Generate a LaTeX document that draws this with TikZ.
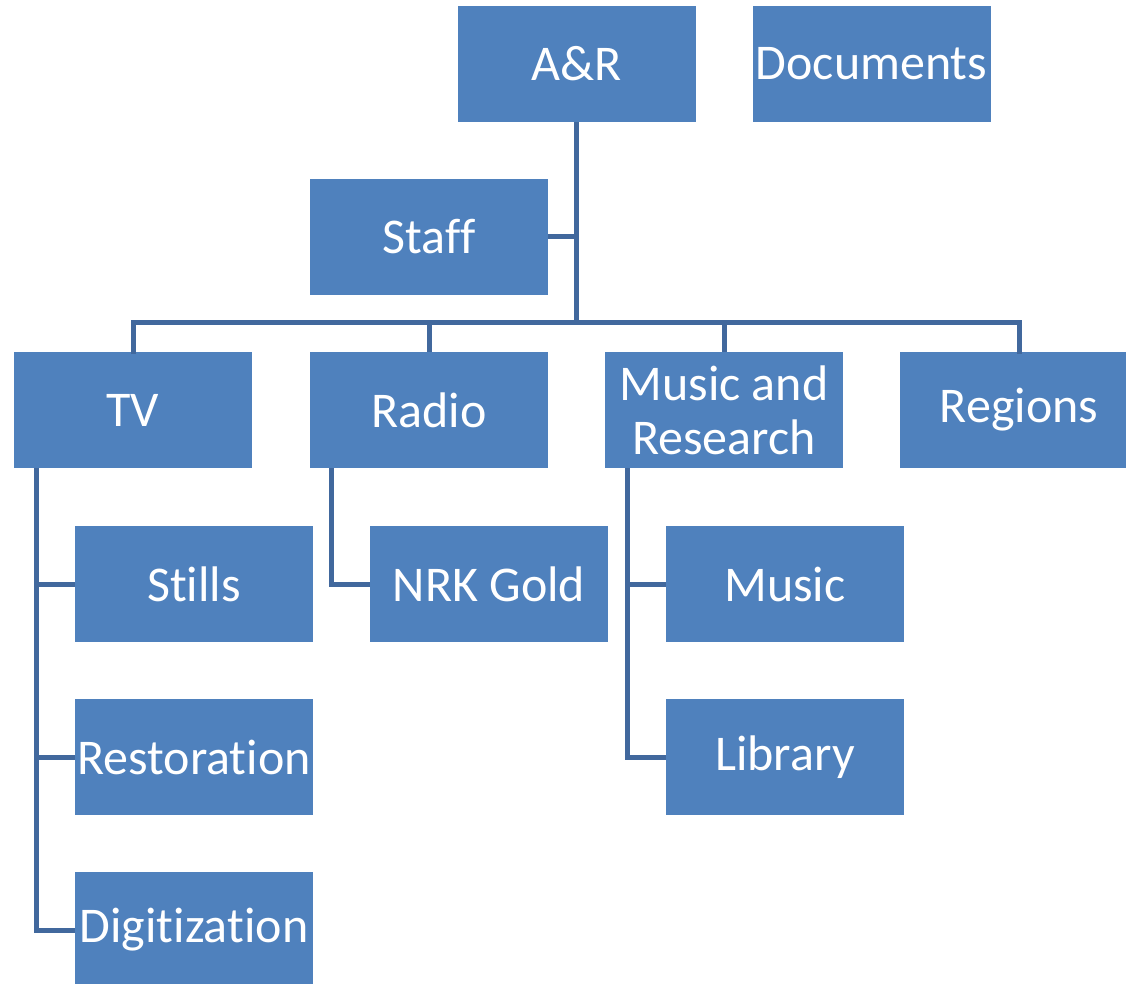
\documentclass[tikz,border=0pt]{standalone}
\usepackage{fontspec}
\setmainfont[Ligatures=NoCommon]{Carlito}
\definecolor{boxfill}{HTML}{4F81BD}
\definecolor{linecol}{HTML}{41689D}
\begin{document}
\begin{tikzpicture}[x=1pt,y=-1pt,
  box/.style={rectangle,fill=boxfill,draw=none,minimum width=238pt,minimum height=116pt,inner sep=0pt,text=white,font=\fontsize{50}{54}\selectfont,align=center},
  conn/.style={draw=linecol,line width=5pt}]
\useasboundingbox (0,0) rectangle (1126,984);
\fill[white] (0,0) rectangle (1126,984);
\node[box] (ar) at (576.5,64) {A\&R};
\node[box] (docs) at (871.5,64) {Documents};
\node[box] (staff) at (429,237) {Staff};
\node[box] (tv) at (133,410) {TV};
\node[box] (radio) at (429,410) {Radio};
\node[box] (mr) at (724,410) {Music and\\Research};
\node[box] (regions) at (1019,410) {Regions};
\node[box] (stills) at (194,584) {Stills};
\node[box] (nrk) at (489,584) {NRK Gold};
\node[box] (music) at (785,584) {Music};
\node[box] (resto) at (194,757) {Restoration};
\node[box] (library) at (785,757) {Library};
\node[box] (digit) at (194,930) {Digitization};
\coordinate (bus) at (576.5,322);
\coordinate (tvl) at (36,468);
\coordinate (radl) at (331,468);
\coordinate (mrl) at (627,468);
\draw[conn] (ar.south) -- (ar.south |- bus);
\draw[conn] (staff.east) -- (staff.east -| ar.south);
\draw[conn,line cap=rect] (tv.north) -- (tv.north |- bus) -- (regions.north |- bus) -- (regions.north);
\draw[conn] (radio.north) -- (radio.north |- bus);
\draw[conn] (mr.north) -- (mr.north |- bus);
\draw[conn,line join=miter] (tvl) |- (digit.west);
\draw[conn] (tvl |- stills.west) -- (stills.west);
\draw[conn] (tvl |- resto.west) -- (resto.west);
\draw[conn,line join=miter] (radl) |- (nrk.west);
\draw[conn,line join=miter] (mrl) |- (library.west);
\draw[conn] (mrl |- music.west) -- (music.west);
\end{tikzpicture}
\end{document}
